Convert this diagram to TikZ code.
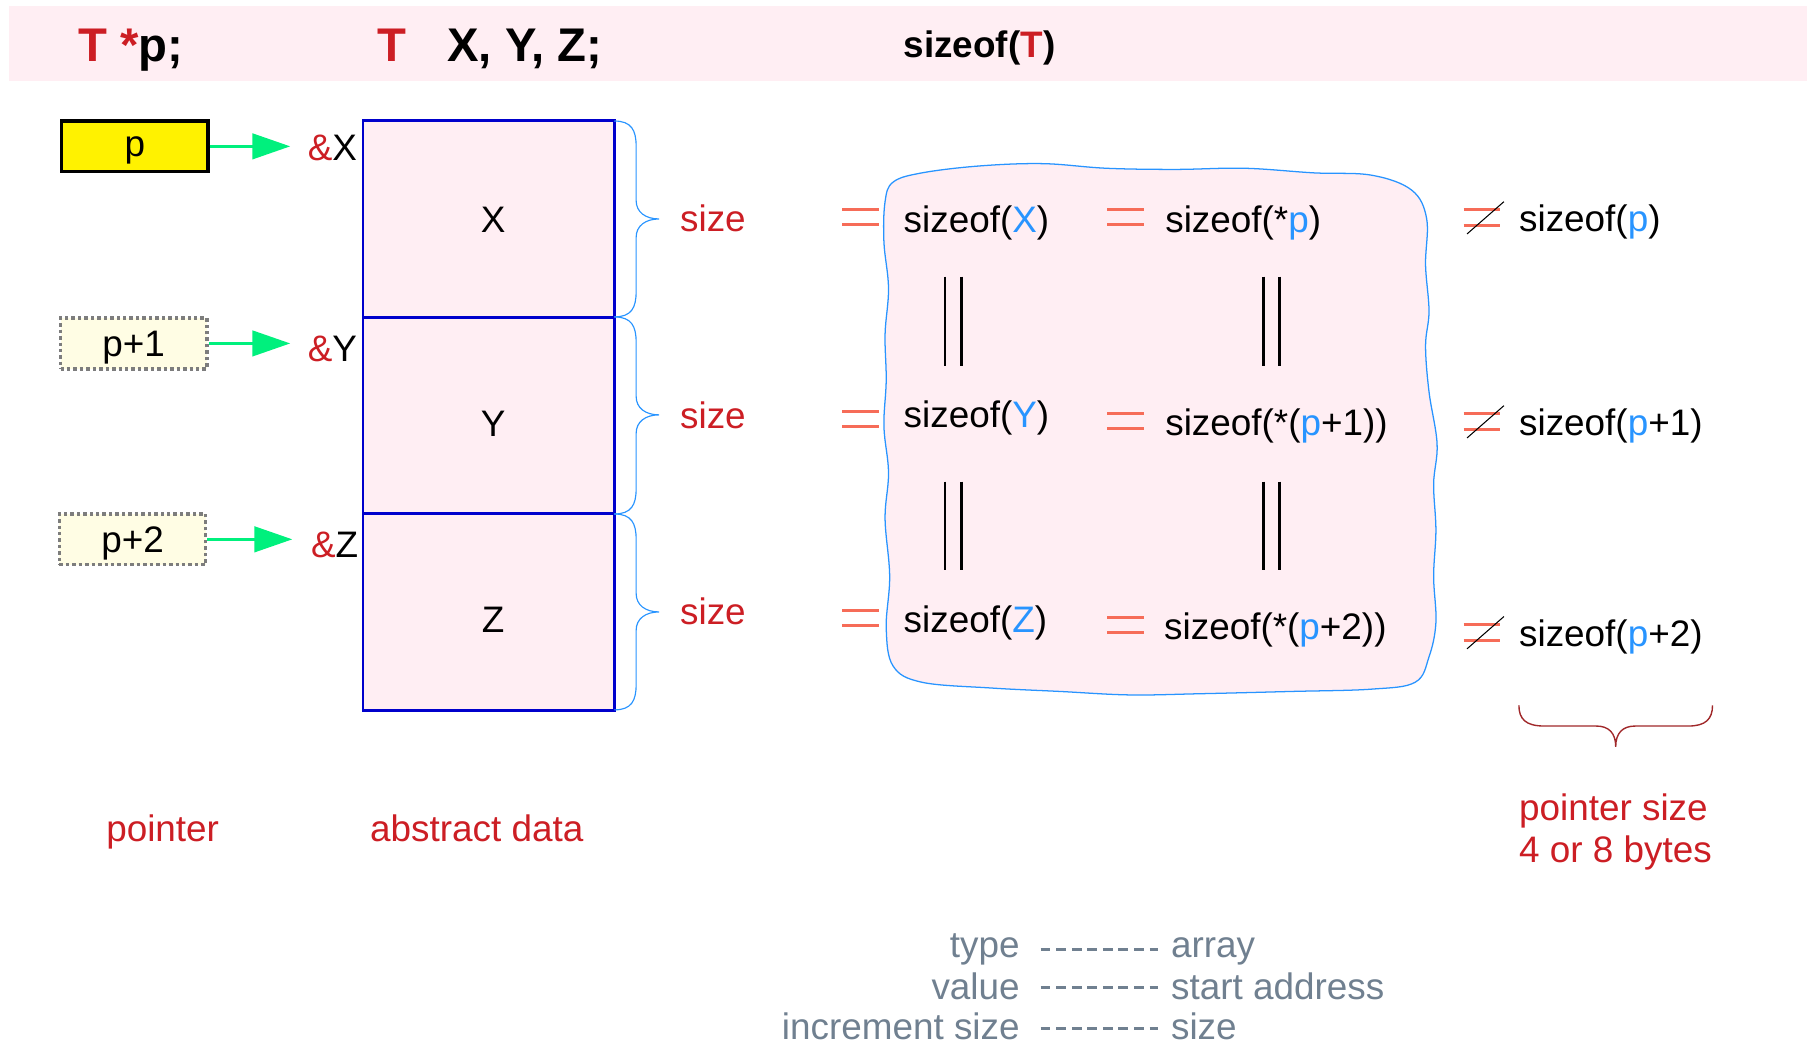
\documentclass[tikz,border=0pt]{standalone}
\usepackage{fontspec}
\setmainfont{Liberation Sans}
\usetikzlibrary{arrows.meta}

\definecolor{bgpink}{RGB}{255,238,243}
\definecolor{dred}{RGB}{204,30,36}
\definecolor{lblue}{RGB}{40,148,255}
\definecolor{coralc}{RGB}{246,108,88}
\definecolor{sgreen}{RGB}{0,240,125}
\definecolor{mblue}{RGB}{0,0,204}
\definecolor{lyellow}{RGB}{255,253,228}
\definecolor{slatec}{RGB}{112,128,144}
\definecolor{bracered}{RGB}{160,40,42}
\definecolor{dotgray}{RGB}{125,125,125}

\newcommand\fsz{\fontsize{32}{38}\selectfont}
\newcommand\fbig{\fontsize{41}{48}\selectfont\bfseries}
\newcommand\fmidb{\fontsize{32}{38}\selectfont\bfseries}
\newcommand\cellletter[2]{\hspace*{8pt}\raisebox{#1}[0pt][0pt]{#2}}

\tikzset{
  txt/.style={inner sep=0pt, font=\fsz},
  eqline/.style={coralc, line width=2.6pt},
  neqslash/.style={black, line width=0.9pt},
  dbar/.style={black, line width=2.6pt},
  mem/.style={draw=mblue, fill=bgpink, line width=2.5pt, minimum width=218pt,
              minimum height=170.5pt, inner sep=0pt, font=\fsz},
  ptrbox/.style={minimum width=127pt, minimum height=44pt, inner sep=0pt, font=\fsz, text depth=0pt},
  garrow/.style={sgreen, line width=3pt, -{Triangle[length=33pt,width=22pt]}},
  membrace/.style={lblue, line width=1pt},
  legdash/.style={slatec, line width=2.6pt, dash pattern=on 8.5pt off 5pt},
}

\begin{document}
\begin{tikzpicture}[x=1pt,y=-1pt]
\useasboundingbox (0,0) rectangle (1568,910);

% banner
\fill[bgpink] (8,5) rectangle (1568,70);
\node[txt, font=\fbig, anchor=base west] (decl) at (68,53) {\textcolor{dred}{T *}p;};
\node[txt, font=\fbig, anchor=base west] (tT) at (327,53) {\textcolor{dred}{T}};
\node[txt, font=\fbig, anchor=base west] (xyz) at (388,53) {X, Y, Z;};
\node[txt, font=\fmidb, anchor=base west] (szT) at (784,50) {sizeof(\textcolor{dred}{T})};

% pointer boxes
\node[ptrbox, draw=black, line width=3pt, fill=yellow] (p0) at (117,127) {p};
\node[ptrbox, draw=dotgray, line width=3pt, dash pattern=on 3pt off 2.6pt, fill=lyellow] (p1) at (116,298) {p+1};
\node[ptrbox, draw=dotgray, line width=3pt, dash pattern=on 3pt off 2.6pt, fill=lyellow] (p2) at (115,468) {p+2};

% address labels
\node[txt, anchor=base east] (ax) at (310,139) {\textcolor{dred}{\&}X};
\node[txt, anchor=base east] (ay) at (310,314) {\textcolor{dred}{\&}Y};
\node[txt, anchor=base east] (az) at (311,484) {\textcolor{dred}{\&}Z};

\draw[garrow, shorten >=15pt] (p0.east) -- (p0.east -| ax.west);
\draw[garrow, shorten >=15pt] (p1.east) -- (p1.east -| ay.west);
\draw[garrow, shorten >=16pt] (p2.east) -- (p2.east -| az.west);

% memory cells
\node[mem] (mx) at (424,190) {\cellletter{-11.5pt}{X}};
\node[mem] (my) at (424,360.5) {\cellletter{-18pt}{Y}};
\node[mem] (mz) at (424,531) {\cellletter{-17.5pt}{Z}};

% braces beside the cells
\foreach \t/\m/\b in {105/190/275, 275/360/446, 446/531/616}{
  \draw[membrace] (533,\t) .. controls (548,\t) and (552,\t+8) .. (552,\t+22)
     -- (552,\m-16) .. controls (552,\m-6) and (560,\m) .. (572,\m)
     .. controls (560,\m) and (552,\m+6) .. (552,\m+16)
     -- (552,\b-22) .. controls (552,\b-8) and (548,\b) .. (533,\b);
}

% size labels
\node[txt, anchor=base west, text=dred] (s1) at (590,201) {size};
\node[txt, anchor=base west, text=dred] (s2) at (590,372) {size};
\node[txt, anchor=base west, text=dred] (s3) at (590,542) {size};

% wavy region
\draw[lblue, line width=1.1pt, fill=bgpink] plot[smooth cycle, tension=0.6] coordinates {
 (775,158) (800,150) (850,144) (905,142) (960,146) (1020,147) (1080,146) (1140,150)
 (1190,152) (1225,165) (1238,190) (1237,230) (1240,270) (1237,300) (1240,340)
 (1247,385) (1244,420) (1246,460) (1244,500) (1246,540) (1240,570) (1228,592)
 (1190,598) (1120,600) (1040,602) (980,603) (920,600) (860,597) (800,592)
 (775,578) (769,545) (772,500) (768,450) (771,410) (767,370) (769,330) (768,290)
 (771,250) (767,210) (768,175)};

% equal signs (left column)
\foreach \y in {188.5, 364, 536}{
  \draw[eqline] (731,\y-6.5) -- (763,\y-6.5);
  \draw[eqline] (731,\y+6.5) -- (763,\y+6.5);
}
% equal signs (middle)
\foreach \y in {188.5, 365, 542}{
  \draw[eqline] (961,\y-6.5) -- (993,\y-6.5);
  \draw[eqline] (961,\y+6.5) -- (993,\y+6.5);
}
% not-equal signs
\foreach \y in {189, 366, 549}{
  \draw[eqline] (1270,\y-7) -- (1302,\y-7);
  \draw[eqline] (1270,\y+7) -- (1302,\y+7);
  \draw[neqslash] (1273,\y+14) -- (1305,\y-14);
}

% double bars
\foreach \x in {820,834,1096,1110}{
  \draw[dbar] (\x,240) -- (\x,318);
  \draw[dbar] (\x,418) -- (\x,495);
}

% sizeof texts
\node[txt, anchor=base west] (sx) at (784,202) {sizeof(\textcolor{lblue}{X})};
\node[txt, anchor=base west] (sy) at (784,371) {sizeof(\textcolor{lblue}{Y})};
\node[txt, anchor=base west] (sz) at (784,549) {sizeof(\textcolor{lblue}{Z})};
\node[txt, anchor=base west] (dp0) at (1011,202) {sizeof(*\textcolor{lblue}{p})};
\node[txt, anchor=base west] (dp1) at (1011,378) {sizeof(*(\textcolor{lblue}{p}+1))};
\node[txt, anchor=base west] (dp2) at (1010,555) {sizeof(*(\textcolor{lblue}{p}+2))};
\node[txt, anchor=base west] (pp0) at (1318,201) {sizeof(\textcolor{lblue}{p})};
\node[txt, anchor=base west] (pp1) at (1318,378) {sizeof(\textcolor{lblue}{p}+1)};
\node[txt, anchor=base west] (pp2) at (1318,561) {sizeof(\textcolor{lblue}{p}+2)};

% bottom brace
\draw[bracered, line width=1.2pt] (1318,612) .. controls (1318,624) and (1324,630) .. (1340,630)
  -- (1385,630) .. controls (1396,630) and (1402,636) .. (1402,648)
  .. controls (1402,636) and (1408,630) .. (1419,630) -- (1465,630)
  .. controls (1480,630) and (1486,624) .. (1486,612);

\node[txt, anchor=base west, text=dred, align=left] (psz) at (1318,712) {pointer size};
\node[txt, anchor=base west, text=dred] (pby) at (1318,748) {4 or 8 bytes};

% captions
\node[txt, anchor=base west, text=dred] (cap1) at (92,730) {pointer};
\node[txt, anchor=base west, text=dred] (cap2) at (321,730) {abstract data};

% legend
\node[txt, anchor=base east, text=slatec] (lt) at (885,831) {type};
\node[txt, anchor=base east, text=slatec] (lv) at (885,867) {value};
\node[txt, anchor=base east, text=slatec] (li) at (885,902) {increment size};
\node[txt, anchor=base west, text=slatec] (ra) at (1016,831) {array};
\node[txt, anchor=base west, text=slatec] (rs) at (1016,867) {start address};
\node[txt, anchor=base west, text=slatec] (rz) at (1016,902) {size};
\draw[legdash, shorten <=18pt, shorten >=11pt] (lt.east) -- (lt.east -| ra.west);
\draw[legdash, shorten <=18pt, shorten >=11pt] ([yshift=-1pt]lv.east) -- ([yshift=-1pt]lv.east -| rs.west);
\draw[legdash, shorten <=18pt, shorten >=11pt] ([yshift=-1.5pt]li.east) -- ([yshift=-1.5pt]li.east -| rz.west);
\end{tikzpicture}
\end{document}
